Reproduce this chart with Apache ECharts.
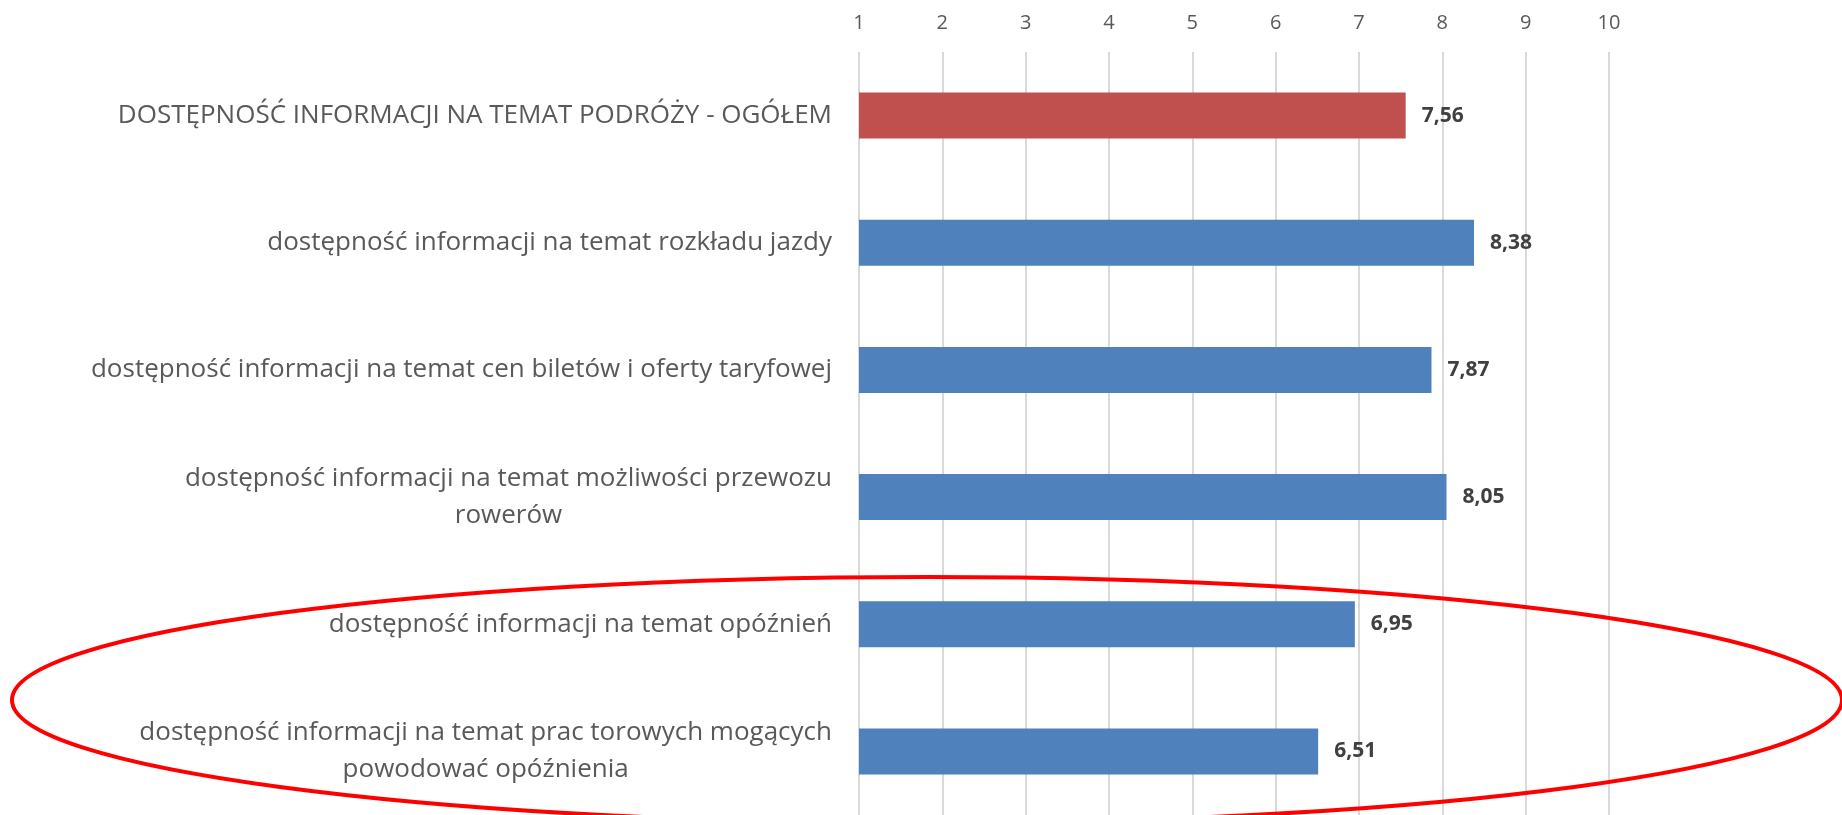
<!DOCTYPE html>
<html lang="pl">

<head>
    <meta charset="UTF-8">
    <title>Dostępność informacji</title>
    <script src="https://cdn.jsdelivr.net/npm/echarts@6/dist/echarts.min.js"></script>
    <style>
        html, body { margin: 0; padding: 0; background: #fff; }
        #chart { width: 1842px; height: 815px; }
    </style>
</head>

<body>
    <div id="chart"></div>

    <script>
        // kategorie (od góry do dołu)
        const categories = [
            "DOSTĘPNOŚĆ INFORMACJI NA TEMAT PODRÓŻY - OGÓŁEM",
            "dostępność informacji na temat rozkładu jazdy",
            "dostępność informacji na temat cen biletów i oferty taryfowej",
            "dostępność informacji na temat możliwości przewozu\nrowerów",
            "dostępność informacji na temat opóźnień",
            "dostępność informacji na temat prac torowych mogących\npowodować opóźnienia"
        ];
        // oceny
        const scores = [7.56, 8.38, 7.87, 8.05, 6.95, 6.51];
        // skala 1-10
        const scaleMin = 1;
        const scaleMax = 10;

        const FONT = "'Open Sans', 'Noto Sans', sans-serif";
        const RED = "#c0504d";
        const BLUE = "#4f81bd";

        var myChart = echarts.init(document.getElementById("chart"), null, { renderer: "canvas" });

        const option = {
            backgroundColor: "#ffffff",
            animation: false,
            grid: {
                left: 859,
                right: 233,
                top: 52,
                height: 765,
                containLabel: false
            },
            xAxis: {
                type: "value",
                position: "top",
                min: scaleMin,
                max: scaleMax,
                interval: 1,
                axisLine: { show: false },
                axisTick: { show: false },
                axisLabel: {
                    fontFamily: FONT,
                    fontSize: 20,
                    color: "#595959",
                    margin: 19
                },
                splitLine: {
                    show: true,
                    lineStyle: { color: "#d9d9d9", width: 2 }
                }
            },
            yAxis: {
                type: "category",
                inverse: true,
                data: categories,
                axisLine: { show: false },
                axisTick: { show: false },
                axisLabel: {
                    margin: 27,
                    formatter: function (v) {
                        return v.split("\n").map(function (s) { return "{c|" + s + "}"; }).join("\n");
                    },
                    rich: {
                        c: {
                            fontFamily: FONT,
                            fontSize: 26,
                            color: "#595959",
                            lineHeight: 37,
                            align: "center"
                        }
                    }
                }
            },
            series: [{
                type: "bar",
                data: scores,
                clip: true,
                barWidth: 46,
                itemStyle: {
                    color: function (p) {
                        return p.dataIndex === 0 ? RED : BLUE;
                    }
                },
                label: {
                    show: true,
                    position: "right",
                    distance: 16,
                    fontFamily: FONT,
                    fontSize: 21,
                    fontWeight: "bold",
                    color: "#404040",
                    formatter: function (p) {
                        return p.value.toFixed(2).replace(".", ",");
                    }
                }
            }],
            graphic: [{
                type: "ellipse",
                z: 100,
                shape: { cx: 927, cy: 700, rx: 915, ry: 123 },
                style: { fill: null, stroke: "#ff0000", lineWidth: 4 }
            }]
        };

        myChart.setOption(option);
    </script>
</body>

</html>
